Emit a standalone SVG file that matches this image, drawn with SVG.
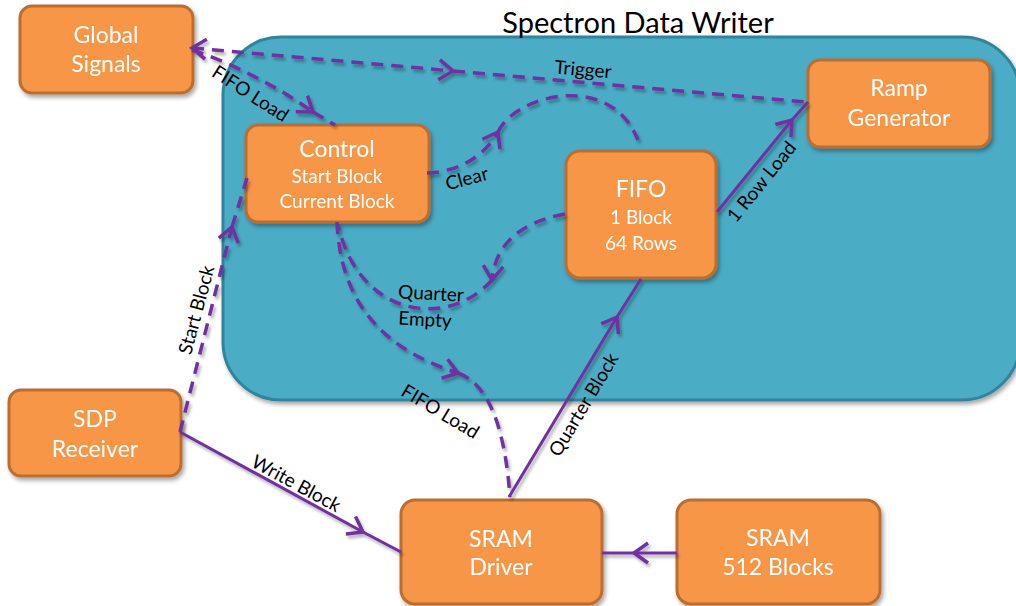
<svg xmlns="http://www.w3.org/2000/svg" width="1016" height="606" viewBox="0 0 1016 606">
<defs>
<style>
.node rect{fill:#F79646;stroke:#BA6E32;stroke-width:3}
.nt{font-family:Lato,"Open Sans",sans-serif;fill:#fff;text-anchor:middle}
.big{font-size:23px}
.small{font-size:19px}
.lbl{font-family:Lato,"Open Sans",sans-serif;font-size:19px;fill:#000;text-anchor:middle}
.c{fill:none;stroke:#7030A0;stroke-width:3}
.d{stroke-dasharray:12 8;stroke-width:3.5}
</style>
<filter id="sh" x="-20%" y="-20%" width="140%" height="140%">
<feDropShadow dx="2" dy="3" stdDeviation="2" flood-color="#000" flood-opacity="0.35"/>
</filter>
<filter id="shl" x="-20%" y="-20%" width="140%" height="140%">
<feDropShadow dx="2" dy="3" stdDeviation="1.5" flood-color="#000" flood-opacity="0.3"/>
</filter>
<marker id="ah" markerUnits="userSpaceOnUse" viewBox="-18 -14 20 28" refX="0" refY="0" markerWidth="20" markerHeight="28" orient="auto" overflow="visible">
<path d="M-14,-10 L0,0 L-14,10" fill="none" stroke="#7030A0" stroke-width="3.5"/>
</marker>
<marker id="ahs" markerUnits="userSpaceOnUse" viewBox="-18 -14 20 28" refX="0" refY="0" markerWidth="20" markerHeight="28" orient="auto-start-reverse" overflow="visible">
<path d="M-14,-10 L0,0 L-14,10" fill="none" stroke="#7030A0" stroke-width="3.5"/>
</marker>
</defs>
<rect width="1016" height="606" fill="#fff"/>
<g id="writer">
<rect x="223" y="37" width="797" height="363" rx="58" fill="#4BACC6" stroke="#31849B" stroke-width="3" filter="url(#sh)"/>
<text x="638" y="33" font-family="Lato,'Open Sans',sans-serif" font-size="29" fill="#000" text-anchor="middle">Spectron Data Writer</text>
</g>
<g id="global" class="node" filter="url(#sh)">
<rect x="20" y="6" width="173" height="87" rx="12"/>
<text class="nt big" x="106" y="43">Global</text>
<text class="nt big" x="106" y="72">Signals</text>
</g>
<g id="control" class="node" filter="url(#sh)">
<rect x="246" y="125" width="183" height="97" rx="12"/>
<text class="nt big" x="337" y="157">Control</text>
<text class="nt small" x="337" y="183">Start Block</text>
<text class="nt small" x="337" y="208">Current Block</text>
</g>
<g id="fifo" class="node" filter="url(#sh)">
<rect x="566" y="151" width="150" height="127" rx="14"/>
<text class="nt big" x="641" y="197">FIFO</text>
<text class="nt small" x="641" y="224">1 Block</text>
<text class="nt small" x="641" y="250">64 Rows</text>
</g>
<g id="ramp" class="node" filter="url(#sh)">
<rect x="808" y="60" width="182" height="87" rx="12"/>
<text class="nt big" x="899" y="96">Ramp</text>
<text class="nt big" x="899" y="126">Generator</text>
</g>
<g id="sdp" class="node" filter="url(#sh)">
<rect x="9" y="390" width="172" height="86" rx="12"/>
<text class="nt big" x="95" y="427">SDP</text>
<text class="nt big" x="95" y="457">Receiver</text>
</g>
<g id="sramdriver" class="node" filter="url(#sh)">
<rect x="401" y="500" width="201" height="104" rx="14"/>
<text class="nt big" x="501" y="547">SRAM</text>
<text class="nt big" x="501" y="575">Driver</text>
</g>
<g id="sram" class="node" filter="url(#sh)">
<rect x="677" y="500" width="203" height="104" rx="14"/>
<text class="nt big" x="778" y="546">SRAM</text>
<text class="nt big" x="778" y="575">512 Blocks</text>
</g>
<g id="connectors" filter="url(#shl)">
<path class="c d" d="M192,48 L453,71" marker-start="url(#ahs)" marker-end="url(#ah)"/>
<path class="c d" d="M453,71 L806,102"/>
<path class="c d" d="M192,50 C230,62 280,88 313,112" marker-end="url(#ah)"/>
<path class="c d" d="M313,112 L335,125"/>
<path class="c d" d="M180,432 L232,227" marker-end="url(#ah)"/>
<path class="c d" d="M232,227 L247,178"/>
<path class="c d" d="M427,173 C460,172 485,155 498,132" marker-end="url(#ah)"/>
<path class="c d" d="M498,132 C515,95 610,70 638,140"/>
<path class="c d" d="M337,222 C340,290 370,345 458,373" marker-end="url(#ah)"/>
<path class="c d" d="M458,373 C490,385 505,430 510,497"/>
<path class="c d" d="M565,214 C520,222 495,245 492,280" marker-end="url(#ah)"/>
<path class="c d" d="M492,280 C450,328 360,320 338,225"/>
<path class="c" d="M180,432 L363,532" marker-end="url(#ah)"/>
<path class="c" d="M363,532 L401,552"/>
<path class="c" d="M509,497 L617,317" marker-end="url(#ah)"/>
<path class="c" d="M617,317 L641,279"/>
<path class="c" d="M717,212 L792,120" marker-end="url(#ah)"/>
<path class="c" d="M792,120 L808,102"/>
<path class="c" d="M677,553 L634,553" marker-end="url(#ah)"/>
<path class="c" d="M634,553 L602,553"/>
</g>
<g id="labels">
<text class="lbl" transform="translate(250,94) rotate(33)" y="6">FIFO Load</text>
<text class="lbl" transform="translate(583,70) rotate(5)" y="6">Trigger</text>
<text class="lbl" transform="translate(467,179) rotate(-15)" y="6">Clear</text>
<text class="lbl" transform="translate(762,182) rotate(-51)" y="6">1 Row Load</text>
<text class="lbl" transform="translate(431,294) rotate(3)" y="6">Quarter</text>
<text class="lbl" transform="translate(425,320) rotate(3)" y="6">Empty</text>
<text class="lbl" transform="translate(197,310) rotate(-75)" y="6">Start Block</text>
<text class="lbl" transform="translate(440,412) rotate(31)" y="6">FIFO Load</text>
<text class="lbl" transform="translate(584,405) rotate(-59)" y="6">Quarter Block</text>
<text class="lbl" transform="translate(296,484) rotate(28.5)" y="6">Write Block</text>
</g>
</svg>
